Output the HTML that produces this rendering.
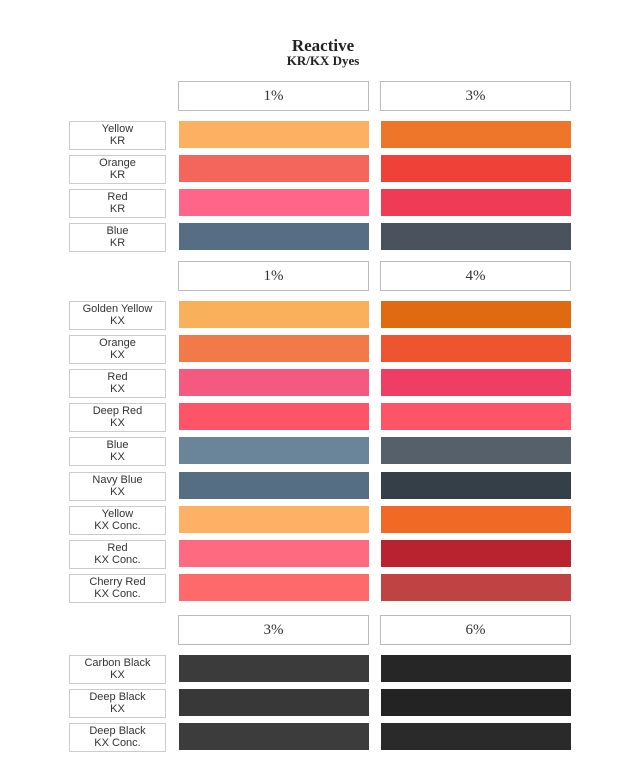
<!DOCTYPE html><html><head><style>
body{margin:0;width:640px;height:768px;background:#fff;position:relative;overflow:hidden;font-family:"Liberation Sans",sans-serif}
.t{position:absolute;left:0;width:640px;text-align:center;font-family:"Liberation Serif",serif;font-weight:bold;color:#222}
.h{position:absolute;width:189px;height:28px;border:1.5px solid #bbb;background:#fff;text-align:center;line-height:28px;font-family:"Liberation Serif",serif;font-size:15px;color:#333}
.l{position:absolute;left:69px;width:95px;height:26px;border:1px solid #ccc;text-align:center;font-size:11px;line-height:12px;color:#333;padding-top:1px}
.s{position:absolute;height:27px;width:190px}
</style></head><body>
<div class="t" style="top:36px;font-size:17px;left:3px">Reactive</div>
<div class="t" style="top:53px;font-size:13px;left:3px">KR/KX Dyes</div>
<div id="c"></div>
<script>
var c=document.getElementById('c'),h='';
function hd(y,a,b){h+='<div class="h" style="left:178px;top:'+y+'px">'+a+'</div><div class="h" style="left:380px;top:'+y+'px">'+b+'</div>';}
function row(y,n,c1,c2){h+='<div class="l" style="top:'+y+'px">'+n+'</div><div class="s" style="left:179px;top:'+y+'px;background:'+c1+'"></div><div class="s" style="left:381px;top:'+y+'px;background:'+c2+'"></div>';}
hd(81,'1%','3%');
var r1=[['Yellow<br>KR','#fdb062','#ee762b'],['Orange<br>KR','#f4655b','#ef4138'],['Red<br>KR','#fe6589','#f03b55'],['Blue<br>KR','#566d83','#4a535d']];
r1.forEach((r,i)=>row(121+34*i,r[0],r[1],r[2]));
hd(261,'1%','4%');
var r2=[['Golden Yellow<br>KX','#f8b15a','#e06a12'],['Orange<br>KX','#f27a4a','#ef5431'],['Red<br>KX','#f45a80','#ef3d63'],['Deep Red<br>KX','#fe5468','#fe5468'],['Blue<br>KX','#6a8599','#56606a'],['Navy Blue<br>KX','#566e84','#343f48'],['Yellow<br>KX Conc.','#feb064','#f06a26'],['Red<br>KX Conc.','#fe6b80','#b8232f'],['Cherry Red<br>KX Conc.','#fe6a6c','#c14243']];
r2.forEach((r,i)=>row(301+34.1*i,r[0],r[1],r[2]));
hd(615,'3%','6%');
var r3=[['Carbon Black<br>KX','#3b3b3b','#262626'],['Deep Black<br>KX','#383838','#232323'],['Deep Black<br>KX Conc.','#3c3c3c','#2a2a2a']];
r3.forEach((r,i)=>row(655+34*i,r[0],r[1],r[2]));
c.innerHTML=h;
</script>
</body></html>
